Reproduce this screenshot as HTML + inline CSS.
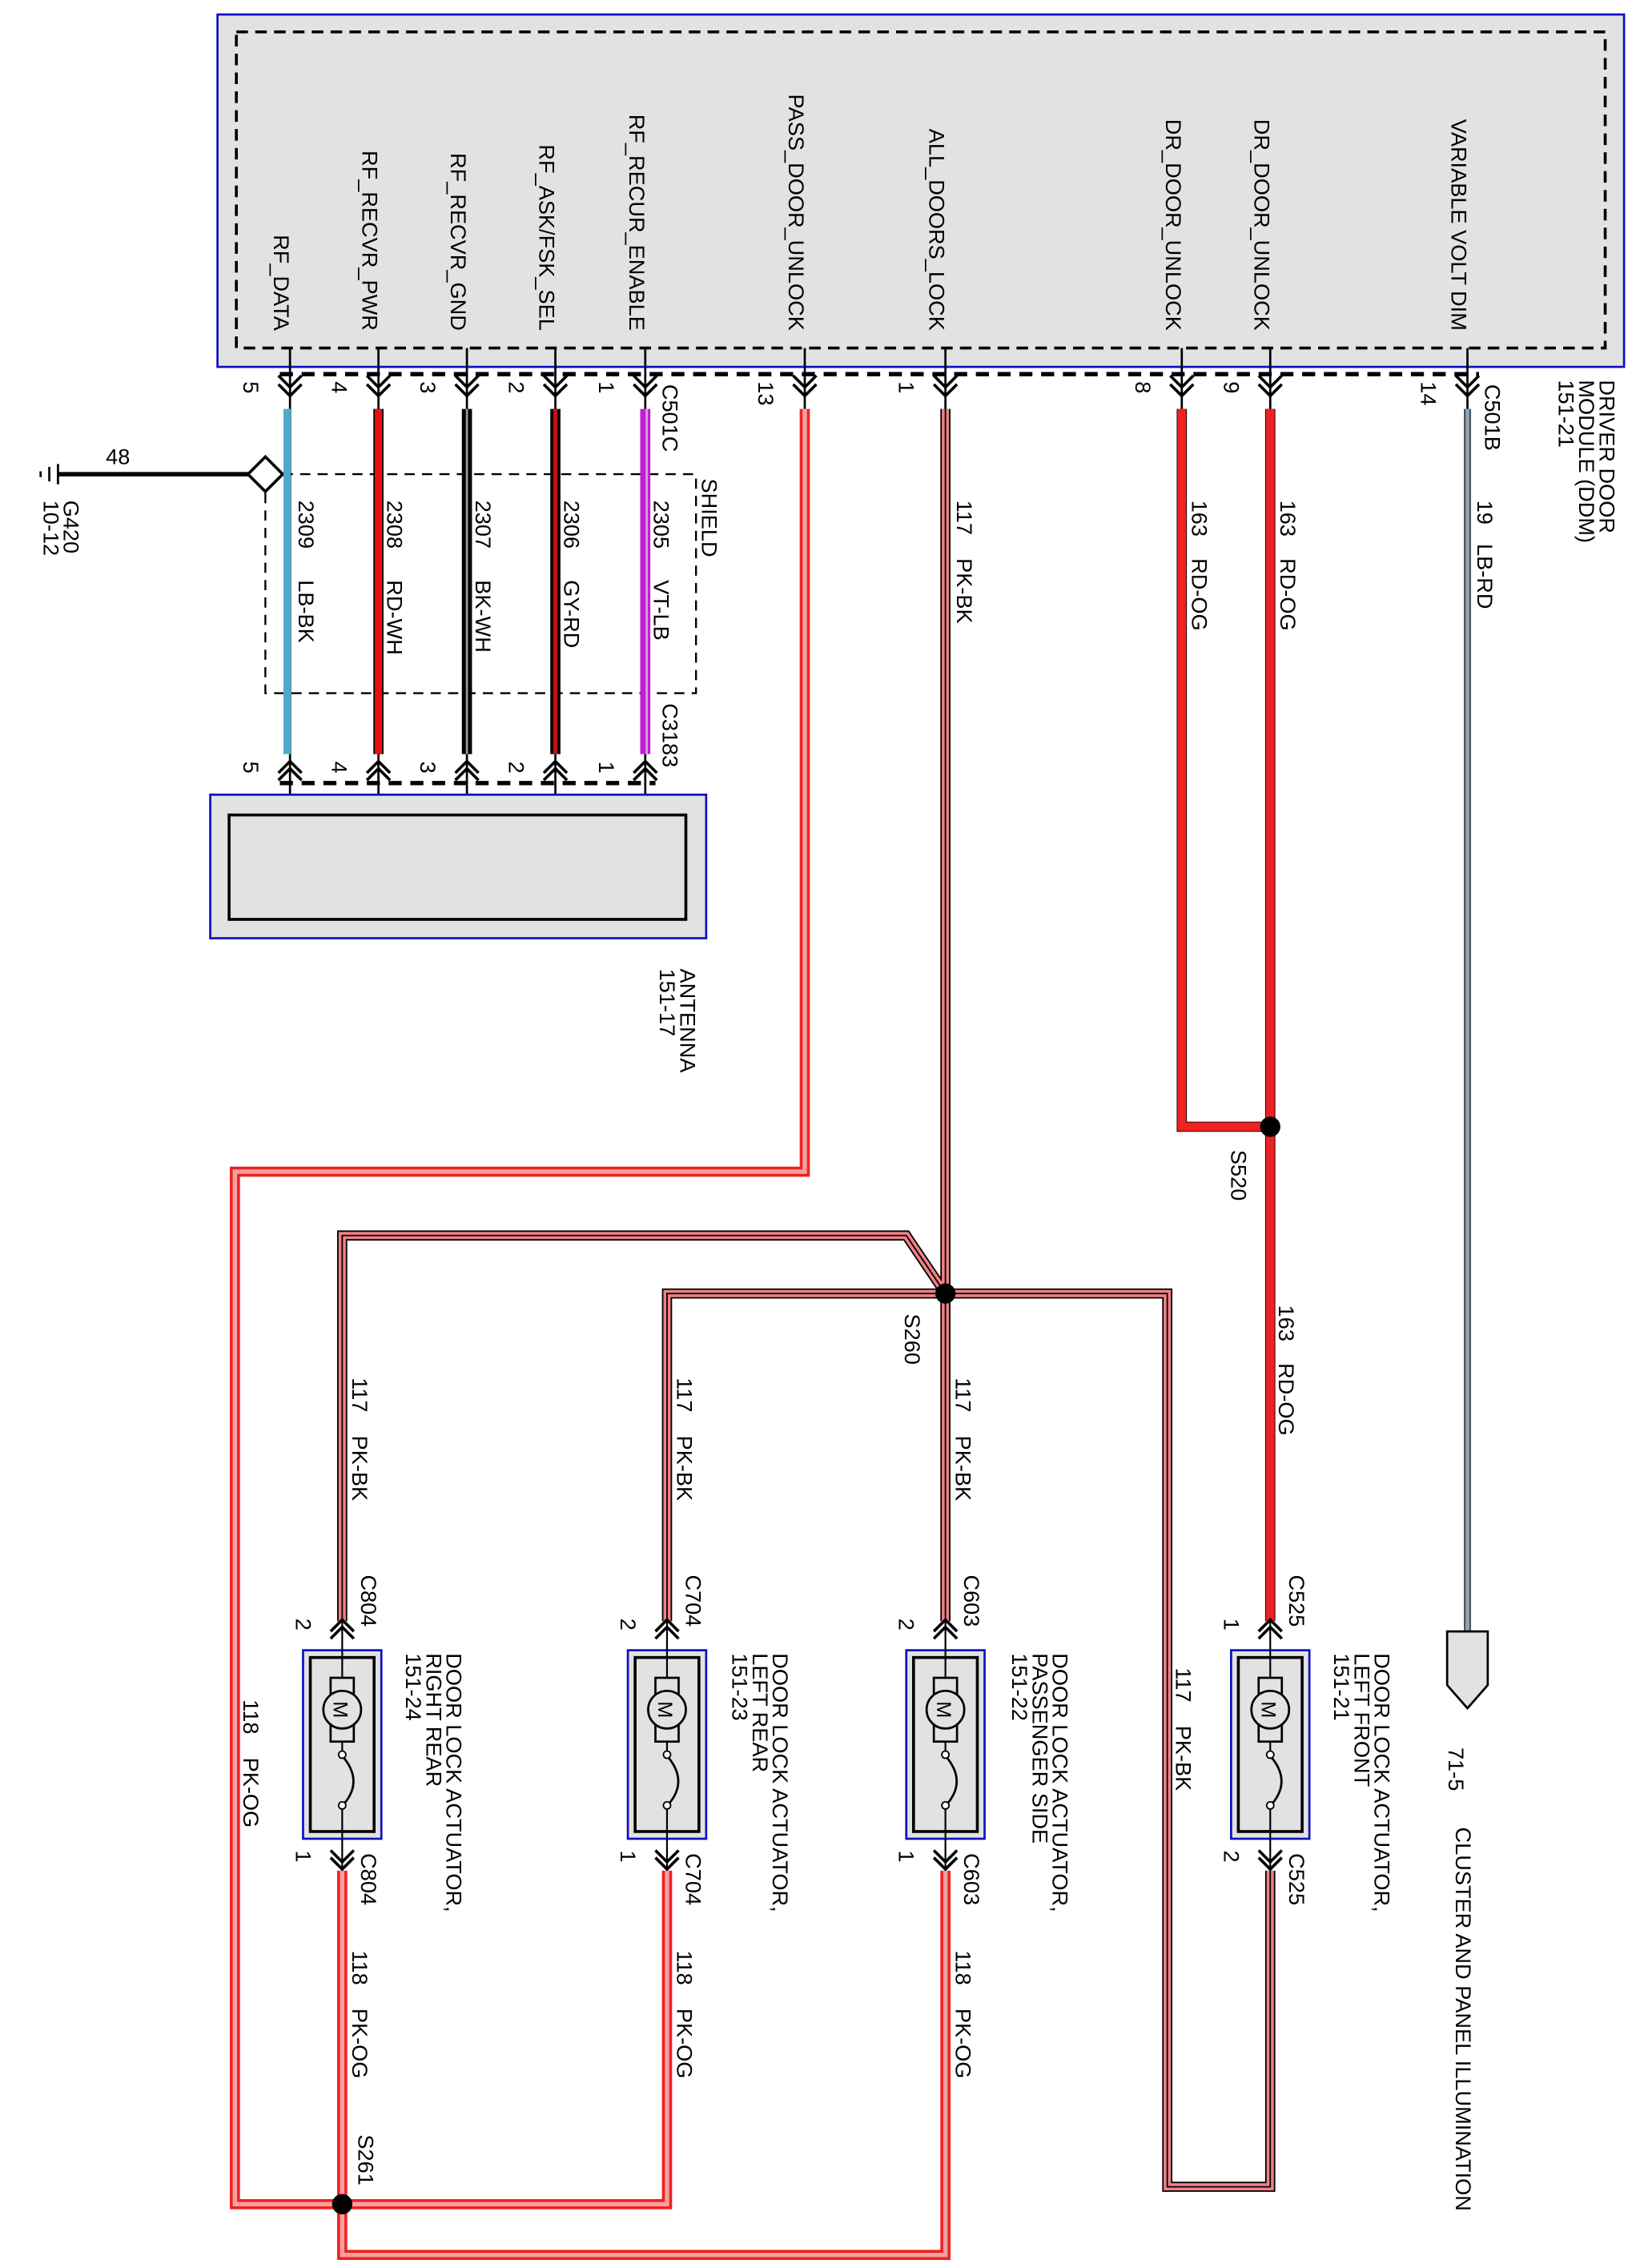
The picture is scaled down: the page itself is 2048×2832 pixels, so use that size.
<!DOCTYPE html>
<html><head><meta charset="utf-8"><style>
html,body{margin:0;padding:0;background:#fff}
svg{display:block}
text{font-family:"Liberation Sans",sans-serif;font-size:15px;fill:#000}
.blk{fill:none;stroke:#000;stroke-width:7;stroke-linejoin:miter}
.pk{fill:none;stroke:#f08088;stroke-width:5}
.pkc{fill:none;stroke:#000;stroke-width:1}
.og{fill:none;stroke:#ee2222;stroke-width:7}
.ogc{fill:none;stroke:#f8a0a0;stroke-width:3}
.th{fill:none;stroke:#000;stroke-width:1.5}
</style></head><body>
<svg width="2048" height="2832" viewBox="0 0 1131 1564" preserveAspectRatio="none" xmlns="http://www.w3.org/2000/svg">
<defs>
<g id="act">
<rect x="-27" y="1138" width="54" height="130" fill="#e2e2e2" stroke="#1010c0" stroke-width="1.5"/>
<rect x="-22" y="1143" width="44" height="120" fill="none" stroke="#000" stroke-width="2"/>
<path d="M0 1118V1158M0 1200V1210M0 1245V1290" stroke="#000" stroke-width="1.2"/>
<rect x="-8" y="1157" width="16" height="44" fill="#e2e2e2" stroke="#000" stroke-width="1.5"/>
<circle cx="0" cy="1179" r="13" fill="#e2e2e2" stroke="#000" stroke-width="1.5"/>
<text x="-6" y="1179" transform="rotate(90 -6 1179)" text-anchor="middle" style="font-size:14px">M</text>
<circle cx="0" cy="1210" r="2.5" fill="#fff" stroke="#000"/><circle cx="0" cy="1245" r="2.5" fill="#fff" stroke="#000"/>
<path d="M1 1212Q14 1228 2 1243" fill="none" stroke="#000" stroke-width="1.5"/>
</g>
</defs>
<rect x="150" y="10" width="970" height="243" fill="#e2e2e2" stroke="#1010c0" stroke-width="1.5"/>
<rect x="163" y="22" width="944" height="218" fill="none" stroke="#000" stroke-width="2" stroke-dasharray="8,5"/>
<g class="th">
<path d="M200 240V282M261 240V282M322 240V282M383 240V282M445 240V282M555 240V282M652 240V282M815 240V282M876 240V282M1012 240V282"/>
<path d="M200 520V562M261 520V562M322 520V562M383 520V562M445 520V562"/>
</g>
<path d="M193 258H1020" stroke="#000" stroke-width="3" fill="none" stroke-dasharray="9,6"/>
<path d="M193 540H452" stroke="#000" stroke-width="3" fill="none" stroke-dasharray="9,6"/>
<rect x="183" y="327" width="297" height="151" fill="none" stroke="#000" stroke-width="1.3" stroke-dasharray="7,5"/>
<path d="M40 327H180" stroke="#000" stroke-width="3"/>
<path d="M40 320V334M34 322V332M28 325V329" stroke="#000" stroke-width="1.5"/>
<path d="M183 315L195 327L183 339L171 327Z" fill="#fff" stroke="#000" stroke-width="2"/>
<text x="73" y="320">48</text>
<path d="M200 282V520" stroke="#000" stroke-width="1.5"/><path d="M198 282V520" stroke="#4fa8c8" stroke-width="5"/>
<path d="M261 282V520" stroke="#000" stroke-width="7"/><path d="M261 282V520" stroke="#e81010" stroke-width="5"/>
<path d="M322 282V520" stroke="#000" stroke-width="7"/><path d="M322 282V520" stroke="#999" stroke-width="1.5"/>
<path d="M383 282V520" stroke="#000" stroke-width="7"/><path d="M383 282V520" stroke="#c01010" stroke-width="3"/>
<path d="M445 282V520" stroke="#c020d0" stroke-width="7"/><path d="M446 282V520" stroke="#d8a0e8" stroke-width="1.5"/>
<path class="og" d="M555 282V808H162V1520H236M460 1290V1520H236M236 1290V1555H652V1290"/>
<path class="ogc" d="M555 282V808H162V1520H236M460 1290V1520H236M236 1290V1555H652V1290"/>
<path class="blk" d="M652 282V1118M652 892H460V1118M652 892L625 852H236V1118M652 892H805V1508H876V1290"/>
<path class="pk" d="M652 282V1118M652 892H460V1118M652 892L625 852H236V1118M652 892H805V1508H876V1290"/>
<path class="pkc" d="M652 282V1118M652 892H460V1118M652 892L625 852H236V1118M652 892H805V1508H876V1290"/>
<path class="blk" d="M815 282V777H876M876 282V1118"/>
<path class="og" style="stroke-width:6" d="M815 282V777H876M876 282V1118"/>
<path d="M1012 282V1125" stroke="#555" stroke-width="5"/><path d="M1012 282V1125" stroke="#8aa8c0" stroke-width="2.5"/>
<path d="M998 1125H1026V1162L1012 1178L998 1162Z" fill="#e2e2e2" stroke="#000" stroke-width="1.5"/>
<circle cx="876" cy="777" r="7"/><circle cx="652" cy="892" r="7"/><circle cx="236" cy="1520" r="7"/>
<g class="th" style="stroke-width:2">
<path d="M192 259L200 267L208 259M192 265L200 273L208 265M253 259L261 267L269 259M253 265L261 273L269 265M314 259L322 267L330 259M314 265L322 273L330 265M375 259L383 267L391 259M375 265L383 273L391 265M437 259L445 267L453 259M437 265L445 273L453 265M547 259L555 267L563 259M547 265L555 273L563 265M644 259L652 267L660 259M644 265L652 273L660 265M807 259L815 267L823 259M807 265L815 273L823 265M868 259L876 267L884 259M868 265L876 273L884 265M1004 259L1012 267L1020 259M1004 265L1012 273L1020 265"/>
<path d="M192 538L200 530L208 538M192 533L200 525L208 533M253 538L261 530L269 538M253 533L261 525L269 533M314 538L322 530L330 538M314 533L322 525L330 533M375 538L383 530L391 538M375 533L383 525L391 533M437 538L445 530L453 538M437 533L445 525L453 533"/>
<path d="M228 1130L236 1122L244 1130M228 1125L236 1117L244 1125M452 1130L460 1122L468 1130M452 1125L460 1117L468 1125M644 1130L652 1122L660 1130M644 1125L652 1117L660 1125M868 1130L876 1122L884 1130M868 1125L876 1117L884 1125"/>
<path d="M228 1276L236 1284L244 1276M228 1281L236 1289L244 1281M452 1276L460 1284L468 1276M452 1281L460 1289L468 1281M644 1276L652 1284L660 1276M644 1281L652 1289L660 1281M868 1276L876 1284L884 1276M868 1281L876 1289L884 1281"/>
</g>
<rect x="145" y="548" width="342" height="99" fill="#e2e2e2" stroke="#1010c0" stroke-width="1.5"/>
<rect x="158" y="562" width="315" height="72" fill="none" stroke="#000" stroke-width="2"/>
<use href="#act" x="236"/><use href="#act" x="460"/><use href="#act" x="652"/><use href="#act" x="876"/>
<g>
<text x="189" y="228" text-anchor="end" transform="rotate(90 189 228)">RF_DATA</text>
<text x="250" y="228" text-anchor="end" transform="rotate(90 250 228)">RF_RECVR_PWR</text>
<text x="311" y="228" text-anchor="end" transform="rotate(90 311 228)">RF_RECVR_GND</text>
<text x="372" y="228" text-anchor="end" transform="rotate(90 372 228)">RF_ASK/FSK_SEL</text>
<text x="434" y="228" text-anchor="end" transform="rotate(90 434 228)">RF_RECUR_ENABLE</text>
<text x="544" y="228" text-anchor="end" transform="rotate(90 544 228)">PASS_DOOR_UNLOCK</text>
<text x="641" y="228" text-anchor="end" transform="rotate(90 641 228)">ALL_DOORS_LOCK</text>
<text x="804" y="228" text-anchor="end" transform="rotate(90 804 228)">DR_DOOR_UNLOCK</text>
<text x="865" y="228" text-anchor="end" transform="rotate(90 865 228)">DR_DOOR_UNLOCK</text>
<text x="1001" y="228" text-anchor="end" transform="rotate(90 1001 228)">VARIABLE VOLT DIM</text>
<text x="1103" y="262" transform="rotate(90 1103 262)">DRIVER DOOR</text>
<text x="1089" y="262" transform="rotate(90 1089 262)">MODULE (DDM)</text>
<text x="1075" y="262" transform="rotate(90 1075 262)">151-21</text>
<text x="457" y="265" transform="rotate(90 457 265)">C501C</text>
<text x="1024" y="265" transform="rotate(90 1024 265)">C501B</text>
<text x="484" y="330" transform="rotate(90 484 330)">SHIELD</text>
<text x="457" y="485" transform="rotate(90 457 485)">C3183</text>
<text x="44" y="345" transform="rotate(90 44 345)">G420</text>
<text x="30" y="345" transform="rotate(90 30 345)">10-12</text>
<text x="168" y="263" transform="rotate(90 168 263)">5</text><text x="229" y="263" transform="rotate(90 229 263)">4</text><text x="290" y="263" transform="rotate(90 290 263)">3</text><text x="351" y="263" transform="rotate(90 351 263)">2</text><text x="413" y="263" transform="rotate(90 413 263)">1</text>
<text x="523" y="263" transform="rotate(90 523 263)">13</text><text x="620" y="263" transform="rotate(90 620 263)">1</text><text x="783" y="263" transform="rotate(90 783 263)">8</text><text x="844" y="263" transform="rotate(90 844 263)">9</text><text x="980" y="263" transform="rotate(90 980 263)">14</text>
<text x="168" y="525" transform="rotate(90 168 525)">5</text><text x="229" y="525" transform="rotate(90 229 525)">4</text><text x="290" y="525" transform="rotate(90 290 525)">3</text><text x="351" y="525" transform="rotate(90 351 525)">2</text><text x="413" y="525" transform="rotate(90 413 525)">1</text>
<text x="206" y="345" transform="rotate(90 206 345)">2309</text><text x="206" y="400" transform="rotate(90 206 400)">LB-BK</text>
<text x="267" y="345" transform="rotate(90 267 345)">2308</text><text x="267" y="400" transform="rotate(90 267 400)">RD-WH</text>
<text x="328" y="345" transform="rotate(90 328 345)">2307</text><text x="328" y="400" transform="rotate(90 328 400)">BK-WH</text>
<text x="389" y="345" transform="rotate(90 389 345)">2306</text><text x="389" y="400" transform="rotate(90 389 400)">GY-RD</text>
<text x="451" y="345" transform="rotate(90 451 345)">2305</text><text x="451" y="400" transform="rotate(90 451 400)">VT-LB</text>
<text x="660" y="345" transform="rotate(90 660 345)">117</text><text x="660" y="385" transform="rotate(90 660 385)">PK-BK</text>
<text x="822" y="345" transform="rotate(90 822 345)">163</text><text x="822" y="385" transform="rotate(90 822 385)">RD-OG</text>
<text x="883" y="345" transform="rotate(90 883 345)">163</text><text x="883" y="385" transform="rotate(90 883 385)">RD-OG</text>
<text x="1019" y="345" transform="rotate(90 1019 345)">19</text><text x="1019" y="375" transform="rotate(90 1019 375)">LB-RD</text>
<text x="469" y="668" transform="rotate(90 469 668)">ANTENNA</text>
<text x="455" y="668" transform="rotate(90 455 668)">151-17</text>
<text x="849" y="793" transform="rotate(90 849 793)">S520</text>
<text x="624" y="906" transform="rotate(90 624 906)">S260</text>
<text x="243" y="950" transform="rotate(90 243 950)">117</text><text x="243" y="990" transform="rotate(90 243 990)">PK-BK</text>
<text x="467" y="950" transform="rotate(90 467 950)">117</text><text x="467" y="990" transform="rotate(90 467 990)">PK-BK</text>
<text x="659" y="950" transform="rotate(90 659 950)">117</text><text x="659" y="990" transform="rotate(90 659 990)">PK-BK</text>
<text x="882" y="900" transform="rotate(90 882 900)">163</text><text x="882" y="940" transform="rotate(90 882 940)">RD-OG</text>
<text x="811" y="1150" transform="rotate(90 811 1150)">117</text><text x="811" y="1190" transform="rotate(90 811 1190)">PK-BK</text>
<text x="168" y="1172" transform="rotate(90 168 1172)">118</text><text x="168" y="1212" transform="rotate(90 168 1212)">PK-OG</text>
<text x="243" y="1345" transform="rotate(90 243 1345)">118</text><text x="243" y="1385" transform="rotate(90 243 1385)">PK-OG</text>
<text x="467" y="1345" transform="rotate(90 467 1345)">118</text><text x="467" y="1385" transform="rotate(90 467 1385)">PK-OG</text>
<text x="659" y="1345" transform="rotate(90 659 1345)">118</text><text x="659" y="1385" transform="rotate(90 659 1385)">PK-OG</text>
<text x="247" y="1472" transform="rotate(90 247 1472)">S261</text>
<text x="249" y="1086" transform="rotate(90 249 1086)">C804</text><text x="249" y="1278" transform="rotate(90 249 1278)">C804</text>
<text x="473" y="1086" transform="rotate(90 473 1086)">C704</text><text x="473" y="1278" transform="rotate(90 473 1278)">C704</text>
<text x="665" y="1086" transform="rotate(90 665 1086)">C603</text><text x="665" y="1278" transform="rotate(90 665 1278)">C603</text>
<text x="889" y="1086" transform="rotate(90 889 1086)">C525</text><text x="889" y="1278" transform="rotate(90 889 1278)">C525</text>
<text x="204" y="1116" transform="rotate(90 204 1116)">2</text><text x="204" y="1276" transform="rotate(90 204 1276)">1</text>
<text x="428" y="1116" transform="rotate(90 428 1116)">2</text><text x="428" y="1276" transform="rotate(90 428 1276)">1</text>
<text x="620" y="1116" transform="rotate(90 620 1116)">2</text><text x="620" y="1276" transform="rotate(90 620 1276)">1</text>
<text x="844" y="1116" transform="rotate(90 844 1116)">1</text><text x="844" y="1276" transform="rotate(90 844 1276)">2</text>
<text x="308" y="1140" transform="rotate(90 308 1140)">DOOR LOCK ACTUATOR,</text><text x="294" y="1140" transform="rotate(90 294 1140)">RIGHT REAR</text><text x="280" y="1140" transform="rotate(90 280 1140)">151-24</text>
<text x="533" y="1140" transform="rotate(90 533 1140)">DOOR LOCK ACTUATOR,</text><text x="519" y="1140" transform="rotate(90 519 1140)">LEFT REAR</text><text x="505" y="1140" transform="rotate(90 505 1140)">151-23</text>
<text x="726" y="1140" transform="rotate(90 726 1140)">DOOR LOCK ACTUATOR,</text><text x="712" y="1140" transform="rotate(90 712 1140)">PASSENGER SIDE</text><text x="698" y="1140" transform="rotate(90 698 1140)">151-22</text>
<text x="948" y="1140" transform="rotate(90 948 1140)">DOOR LOCK ACTUATOR,</text><text x="934" y="1140" transform="rotate(90 934 1140)">LEFT FRONT</text><text x="920" y="1140" transform="rotate(90 920 1140)">151-21</text>
<text x="999" y="1205" transform="rotate(90 999 1205)">71-5</text>
<text x="1004" y="1260" transform="rotate(90 1004 1260)">CLUSTER AND PANEL ILLUMINATION</text>
</g>
</svg>
</body></html>
